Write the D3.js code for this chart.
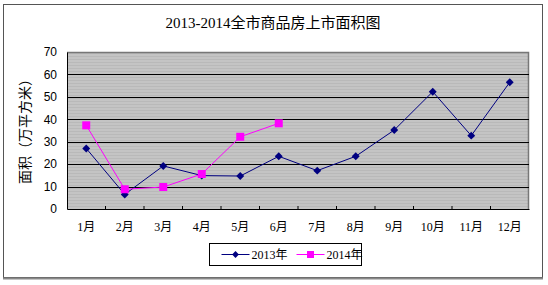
<!DOCTYPE html>
<html>
<head>
<meta charset="utf-8">
<script src="https://cdn.jsdelivr.net/npm/d3@7"></script>
<style>
  body { margin: 0; background: #fff; }
  svg text { font-family: "Liberation Serif", "Noto Sans CJK SC", serif; }
</style>
</head>
<body>
<div id="chart"></div>
<script>
const months = ["1月", "2月", "3月", "4月", "5月", "6月", "7月", "8月", "9月", "10月", "11月", "12月"];
const area2013 = [27, 6.5, 19.2, 14.9, 14.7, 23.5, 17.1, 23.5, 35.2, 52.3, 32.7, 56.5];
const area2014 = [37.3, 8.8, 9.8, 15.6, 32.2, 38.2];
const yTicks = [0, 10, 20, 30, 40, 50, 60, 70];

const width = 548, height = 285;
const plot = { left: 67, right: 529, top: 52, bottom: 209 };

const svg = d3.select("#chart").append("svg")
  .attr("width", width)
  .attr("height", height);

// outer frame
svg.append("rect")
  .attr("x", 3.5).attr("y", 4.5)
  .attr("width", 539).attr("height", 273)
  .attr("fill", "#fff")
  .attr("stroke", "#555")
  .attr("stroke-width", 1);
svg.append("line")
  .attr("x1", 3).attr("x2", 543)
  .attr("y1", 278.5).attr("y2", 278.5)
  .attr("stroke", "#888").attr("stroke-width", 2);

// striped gray plot background
const pat = svg.append("defs").append("pattern")
  .attr("id", "stripes")
  .attr("patternUnits", "userSpaceOnUse")
  .attr("width", 4).attr("height", 3);
pat.append("rect").attr("width", 4).attr("height", 3).attr("fill", "#c4c4c4");
pat.append("rect").attr("y", 2).attr("width", 4).attr("height", 1).attr("fill", "#b9b9b9");

const x = d3.scaleBand().domain(months).range([plot.left, plot.right]);
const y = d3.scaleLinear().domain([0, 70]).range([plot.bottom, plot.top]);

svg.append("rect")
  .attr("x", plot.left).attr("y", plot.top)
  .attr("width", plot.right - plot.left).attr("height", plot.bottom - plot.top)
  .attr("fill", "url(#stripes)");

// plot top/right border (gray)
svg.append("path")
  .attr("d", `M${plot.left},${plot.top + 0.5}H${plot.right - 0.5}V${plot.bottom}`)
  .attr("fill", "none").attr("stroke", "#777").attr("stroke-width", 1.5);

// gridlines
svg.append("g")
  .selectAll("line")
  .data(yTicks.filter(d => d > 0 && d < 70))
  .enter().append("line")
  .attr("x1", plot.left).attr("x2", plot.right)
  .attr("y1", d => Math.round(y(d)) + 0.5).attr("y2", d => Math.round(y(d)) + 0.5)
  .attr("stroke", "#000").attr("stroke-width", 1);

// y axis
const yAxis = svg.append("g")
  .attr("transform", `translate(${plot.left},0)`)
  .call(d3.axisLeft(y).tickValues(yTicks).tickSize(0).tickPadding(10));
yAxis.select(".domain").attr("stroke", "#000");
yAxis.selectAll("text")
  .style("font-family", "'Liberation Sans', Arial, sans-serif")
  .style("font-size", "12px")
  .attr("fill", "#000");

// x axis
const xAxis = svg.append("g")
  .attr("transform", `translate(0,${plot.bottom})`)
  .call(d3.axisBottom(x).tickSize(0).tickPadding(13));
xAxis.select(".domain").attr("stroke", "#000");
xAxis.selectAll("text")
  .style("font-size", "12px")
  .attr("fill", "#000");
svg.append("g")
  .selectAll("line")
  .data(months.slice(1))
  .enter().append("line")
  .attr("x1", d => x(d)).attr("x2", d => x(d))
  .attr("y1", plot.bottom - 3).attr("y2", plot.bottom + 1)
  .attr("stroke", "#000");

// lines
const line = d3.line()
  .x((d, i) => x(months[i]) + x.bandwidth() / 2)
  .y(d => y(d));

svg.append("path").datum(area2013)
  .attr("d", line).attr("fill", "none")
  .attr("stroke", "#000080").attr("stroke-width", 1);
svg.append("path").datum(area2014)
  .attr("d", line).attr("fill", "none")
  .attr("stroke", "#ff00ff").attr("stroke-width", 1);

svg.append("g").selectAll("path")
  .data(area2013)
  .enter().append("path")
  .attr("d", d3.symbol().type(d3.symbolDiamond2).size(40))
  .attr("transform", (d, i) => `translate(${x(months[i]) + x.bandwidth() / 2},${y(d)})`)
  .attr("fill", "#000080");

svg.append("g").selectAll("rect")
  .data(area2014)
  .enter().append("rect")
  .attr("x", (d, i) => x(months[i]) + x.bandwidth() / 2 - 4)
  .attr("y", d => y(d) - 4)
  .attr("width", 8).attr("height", 8)
  .attr("fill", "#ff00ff");

// title
svg.append("text")
  .attr("x", 273).attr("y", 28)
  .attr("text-anchor", "middle")
  .style("font-size", "15px")
  .text("2013-2014全市商品房上市面积图");

// y axis title
svg.append("text")
  .attr("transform", "translate(30,128) rotate(-90)")
  .attr("text-anchor", "middle")
  .style("font-size", "14px")
  .text("面积（万平方米）");

// legend
const lg = svg.append("g").attr("transform", "translate(209.5,243.5)");
lg.append("rect").attr("width", 152).attr("height", 22)
  .attr("fill", "#fff").attr("stroke", "#000");
lg.append("line").attr("x1", 12).attr("x2", 40).attr("y1", 11).attr("y2", 11)
  .attr("stroke", "#000080");
lg.append("path").attr("d", d3.symbol().type(d3.symbolDiamond2).size(30))
  .attr("transform", "translate(26,11)").attr("fill", "#000080");
lg.append("text").attr("x", 42).attr("y", 15.5)
  .style("font-size", "12px").text("2013年");
lg.append("line").attr("x1", 87).attr("x2", 115).attr("y1", 11).attr("y2", 11)
  .attr("stroke", "#ff00ff");
lg.append("rect").attr("x", 97.5).attr("y", 7.5).attr("width", 7).attr("height", 7)
  .attr("fill", "#ff00ff");
lg.append("text").attr("x", 117).attr("y", 15.5)
  .style("font-size", "12px").text("2014年");
</script>
</body>
</html>
